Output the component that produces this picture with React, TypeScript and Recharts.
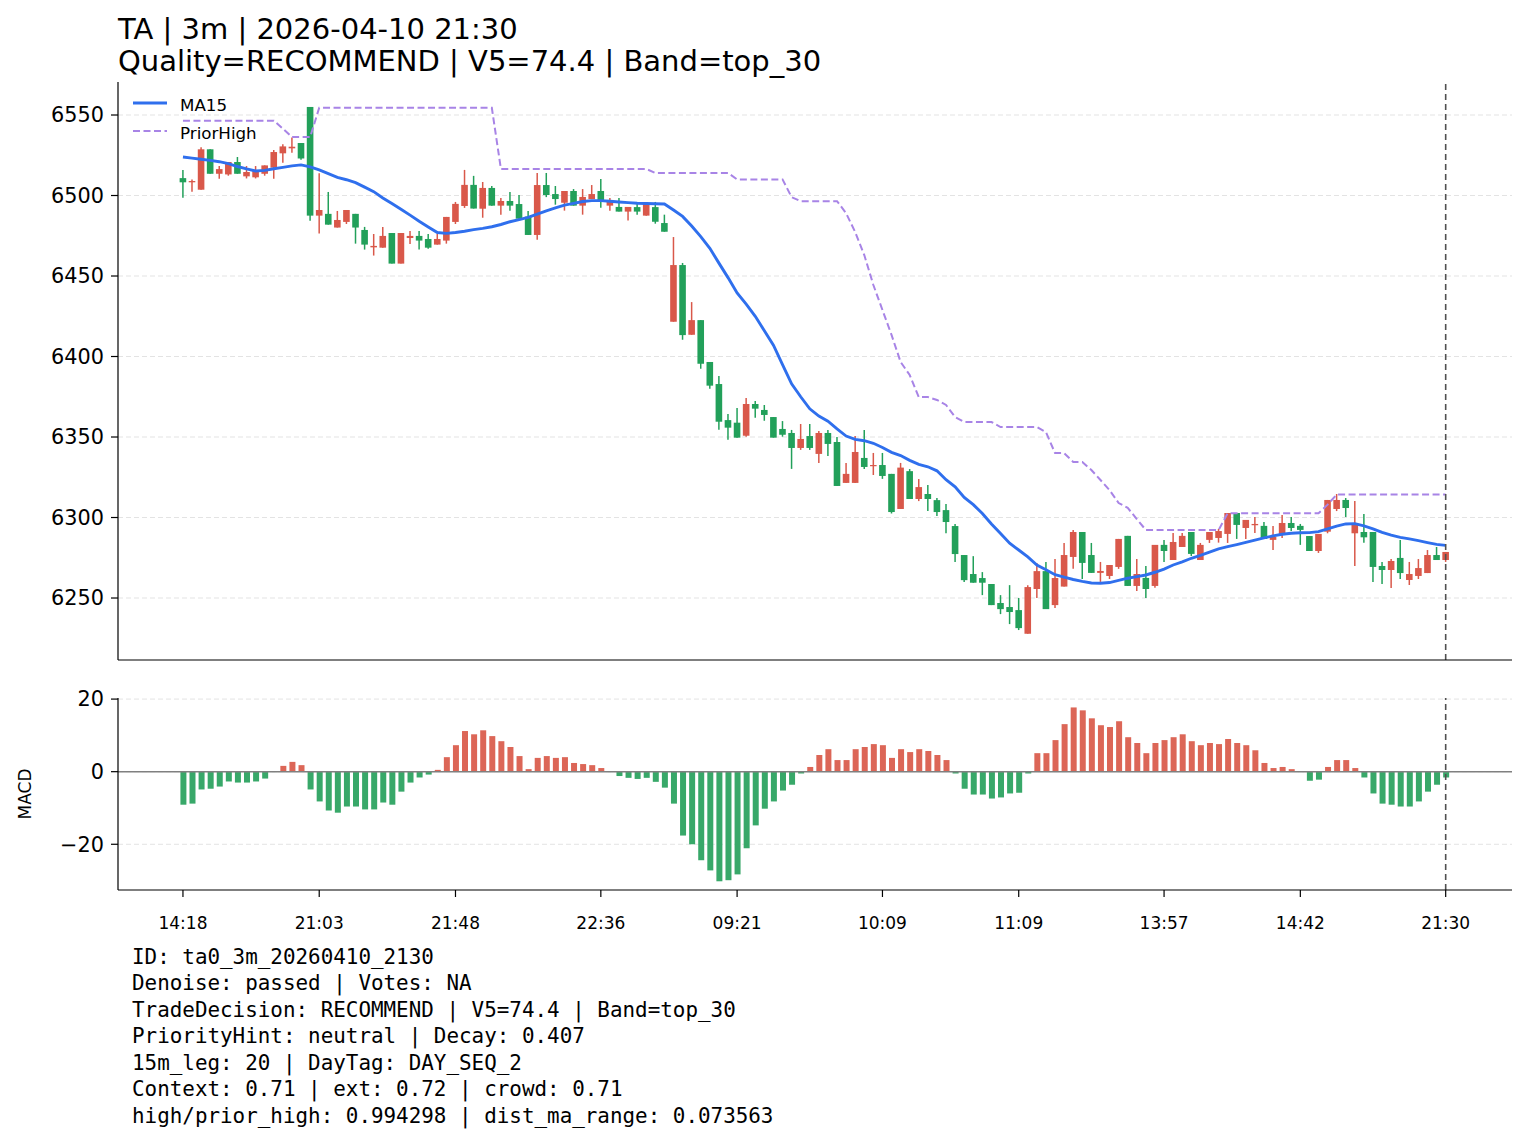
import React from "react";
import {
  ComposedChart,
  Bar,
  Line,
  XAxis,
  YAxis,
  CartesianGrid,
  ReferenceLine,
  Cell,
} from "recharts";

// ---- data (index = 3m bar) ----
const opens = [
  6510.8, 6508.2, 6503.6, 6528.7, 6513.5, 6513.1, 6520.8, 6511.9, 6511.3, 6513.5,
  6517.3, 6526.2, 6529.3, 6532.6, 6555.0, 6487.5, 6488.6, 6480.1, 6483.6, 6488.6,
  6478.6, 6467.8, 6467.6, 6476.7, 6457.7, 6473.6, 6474.9, 6473.0, 6469.5, 6472.0,
  6483.6, 6493.5, 6506.6, 6491.8, 6504.7, 6493.7, 6496.6, 6494.7, 6486.9, 6475.5,
  6506.5, 6500.9, 6495.5, 6502.8, 6493.7, 6497.8, 6502.8, 6493.7, 6492.9, 6490.0,
  6492.8, 6487.5, 6492.8, 6482.9, 6421.6, 6456.8, 6413.5, 6422.6, 6396.6, 6382.9,
  6360.5, 6358.9, 6350.8, 6370.5, 6366.8, 6362.4, 6355.0, 6352.5, 6343.2, 6350.6,
  6339.5, 6352.5, 6346.9, 6321.5, 6321.5, 6337.0, 6332.0, 6332.6, 6327.1, 6305.3,
  6328.8, 6311.5, 6314.6, 6310.8, 6304.6, 6294.7, 6276.7, 6264.9, 6262.4, 6258.7,
  6246.9, 6244.4, 6242.5, 6227.8, 6255.6, 6266.7, 6245.6, 6257.1, 6275.5, 6291.0,
  6276.7, 6265.6, 6263.7, 6269.3, 6288.6, 6257.5, 6262.5, 6257.5, 6283.0, 6273.6,
  6281.7, 6291.0, 6273.6, 6286.1, 6287.3, 6289.8, 6302.8, 6293.5, 6295.2, 6294.8,
  6286.1, 6289.8, 6296.6, 6294.8, 6288.5, 6279.2, 6291.2, 6305.3, 6310.9, 6290.2,
  6291.0, 6291.0, 6269.9, 6267.4, 6274.9, 6261.2, 6263.7, 6265.5, 6276.7, 6273.6,
];

const highs = [
  6515.8, 6510.0, 6529.9, 6528.7, 6518.3, 6520.8, 6523.9, 6518.3, 6518.3, 6518.7,
  6528.2, 6531.8, 6536.1, 6532.6, 6555.0, 6513.8, 6502.2, 6490.4, 6491.0, 6488.6,
  6480.5, 6476.1, 6480.5, 6476.7, 6476.7, 6478.0, 6478.0, 6476.1, 6476.1, 6486.7,
  6496.0, 6515.9, 6512.2, 6508.4, 6505.9, 6498.4, 6502.2, 6500.3, 6490.4, 6514.0,
  6514.0, 6505.9, 6502.8, 6504.0, 6504.0, 6506.5, 6510.2, 6498.4, 6498.4, 6492.9,
  6495.1, 6496.0, 6496.0, 6488.1, 6474.2, 6458.1, 6433.8, 6422.6, 6396.6, 6387.9,
  6364.3, 6368.0, 6374.2, 6372.3, 6369.9, 6362.4, 6359.9, 6354.4, 6358.1, 6358.1,
  6353.8, 6354.4, 6350.0, 6333.9, 6350.7, 6354.4, 6340.1, 6340.1, 6327.1, 6333.9,
  6330.1, 6323.9, 6320.2, 6312.1, 6308.4, 6295.9, 6276.7, 6276.0, 6266.1, 6258.7,
  6251.8, 6258.0, 6250.0, 6258.0, 6271.7, 6272.3, 6274.2, 6284.2, 6292.3, 6291.0,
  6284.2, 6272.4, 6270.5, 6286.7, 6288.6, 6274.3, 6269.9, 6283.0, 6286.1, 6290.4,
  6290.4, 6291.0, 6284.2, 6291.0, 6292.9, 6302.8, 6302.8, 6298.5, 6300.3, 6297.2,
  6294.8, 6301.6, 6300.3, 6296.0, 6288.5, 6289.8, 6310.9, 6314.6, 6312.1, 6310.3,
  6302.2, 6291.0, 6272.4, 6274.2, 6286.0, 6272.4, 6274.2, 6279.8, 6281.7, 6278.6,
];

const lows = [
  6498.6, 6502.4, 6503.6, 6513.5, 6510.4, 6512.3, 6513.5, 6510.6, 6510.6, 6512.3,
  6510.4, 6520.4, 6526.6, 6522.2, 6484.3, 6476.4, 6481.9, 6480.1, 6482.3, 6470.1,
  6466.4, 6462.7, 6467.6, 6457.7, 6457.7, 6469.9, 6466.4, 6467.0, 6469.5, 6470.1,
  6482.3, 6492.3, 6491.9, 6486.2, 6493.7, 6488.1, 6490.6, 6485.6, 6475.5, 6472.5,
  6499.0, 6494.3, 6490.6, 6493.7, 6488.1, 6497.8, 6492.4, 6490.6, 6490.0, 6484.4,
  6488.1, 6487.5, 6482.5, 6477.5, 6421.6, 6410.4, 6413.5, 6392.4, 6380.0, 6354.5,
  6348.3, 6349.6, 6350.2, 6362.0, 6360.1, 6349.6, 6350.2, 6330.2, 6342.0, 6342.0,
  6333.9, 6338.2, 6319.6, 6321.5, 6321.5, 6330.2, 6326.4, 6324.0, 6302.5, 6305.3,
  6311.5, 6310.2, 6304.0, 6300.9, 6290.3, 6272.3, 6259.9, 6259.5, 6251.8, 6245.6,
  6240.0, 6233.8, 6230.1, 6227.8, 6250.0, 6243.1, 6243.8, 6257.1, 6268.1, 6261.8,
  6265.6, 6260.0, 6261.8, 6268.1, 6257.5, 6254.4, 6250.0, 6256.3, 6272.4, 6273.6,
  6281.7, 6276.1, 6273.6, 6284.2, 6284.4, 6284.2, 6286.7, 6286.7, 6290.4, 6286.7,
  6279.8, 6287.3, 6291.6, 6283.0, 6279.2, 6278.0, 6290.2, 6304.0, 6300.3, 6269.9,
  6284.4, 6260.0, 6258.7, 6256.2, 6261.8, 6258.1, 6261.8, 6265.5, 6273.6, 6272.4,
];

const closes = [
  6508.2, 6509.0, 6528.7, 6513.5, 6516.4, 6520.8, 6513.5, 6514.6, 6515.4, 6518.7,
  6527.0, 6530.5, 6530.3, 6523.0, 6487.5, 6491.0, 6481.9, 6484.8, 6491.0, 6480.1,
  6469.5, 6468.7, 6474.9, 6457.7, 6476.7, 6474.9, 6472.0, 6467.6, 6473.0, 6486.7,
  6494.8, 6506.6, 6491.9, 6504.7, 6493.7, 6496.6, 6493.7, 6485.6, 6475.5, 6506.5,
  6500.3, 6497.8, 6502.8, 6493.7, 6499.1, 6500.9, 6496.8, 6496.0, 6490.0, 6492.9,
  6490.0, 6495.1, 6483.7, 6477.5, 6456.8, 6413.3, 6422.6, 6395.5, 6381.9, 6359.5,
  6355.8, 6349.6, 6370.5, 6367.6, 6363.7, 6349.6, 6351.4, 6343.2, 6348.8, 6343.2,
  6352.5, 6345.7, 6319.6, 6327.1, 6340.7, 6331.4, 6332.6, 6325.8, 6303.4, 6331.0,
  6311.5, 6318.9, 6311.5, 6303.4, 6297.2, 6277.3, 6261.1, 6259.5, 6259.5, 6245.6,
  6243.1, 6241.3, 6231.3, 6256.8, 6266.7, 6243.1, 6262.4, 6276.7, 6291.0, 6271.8,
  6265.6, 6266.8, 6270.5, 6286.7, 6257.5, 6264.9, 6255.6, 6283.0, 6279.2, 6284.8,
  6288.6, 6277.4, 6283.0, 6291.0, 6291.6, 6302.8, 6295.4, 6298.5, 6296.0, 6286.7,
  6287.9, 6296.6, 6293.5, 6292.3, 6279.2, 6289.8, 6310.9, 6310.9, 6305.9, 6295.4,
  6287.7, 6269.3, 6267.4, 6273.0, 6265.5, 6264.9, 6268.6, 6276.7, 6273.6, 6278.6,
];

const ma15 = [
  6523.9, 6523.2, 6522.5, 6521.8, 6521.0, 6519.8, 6518.0, 6516.5, 6515.2, 6515.6,
  6516.6, 6517.5, 6518.4, 6519.0, 6517.8, 6515.9, 6513.6, 6511.3, 6509.8, 6508.0,
  6505.2, 6502.4, 6498.5, 6495.0, 6491.5, 6487.8, 6484.0, 6480.5, 6477.0, 6476.5,
  6477.0, 6477.8, 6478.8, 6479.6, 6480.6, 6482.0, 6483.7, 6485.0, 6486.4, 6488.5,
  6490.5, 6492.3, 6494.0, 6495.1, 6496.3, 6496.8, 6496.8, 6496.4, 6496.0, 6495.6,
  6495.2, 6495.0, 6494.9, 6494.7, 6491.0, 6487.0, 6481.0, 6474.5, 6467.2, 6458.0,
  6449.0, 6439.5, 6432.5, 6425.0, 6416.0, 6407.0, 6395.0, 6383.0, 6375.0, 6367.5,
  6363.0, 6359.8, 6355.0, 6350.6, 6348.5, 6347.7, 6346.1, 6343.5, 6340.5, 6338.5,
  6335.5, 6333.0, 6331.5, 6329.0, 6323.5, 6319.0, 6312.5, 6308.0, 6302.5, 6296.0,
  6290.0, 6284.0, 6279.8, 6275.5, 6270.5, 6267.5, 6264.5, 6263.0, 6261.5, 6260.3,
  6259.3, 6259.2, 6259.6, 6261.0, 6262.3, 6263.3, 6264.3, 6266.0, 6268.0, 6270.5,
  6272.5, 6274.7, 6276.5, 6278.5, 6280.5, 6281.9, 6283.2, 6284.6, 6286.0, 6287.3,
  6288.6, 6289.6, 6290.2, 6290.5, 6290.6, 6291.2, 6293.0, 6294.7, 6296.0, 6296.2,
  6294.8, 6293.0, 6290.8, 6289.0, 6287.7, 6286.7, 6285.6, 6284.4, 6283.3, 6282.7,
];

const priorHigh = [
  6546.5, 6546.5, 6546.5, 6546.5, 6546.5, 6546.5, 6546.5, 6546.5, 6546.5, 6546.5,
  6546.5, 6541.5, 6536.3, 6536.3, 6536.3, 6554.5, 6554.5, 6554.5, 6554.5, 6554.5,
  6554.5, 6554.5, 6554.5, 6554.5, 6554.5, 6554.5, 6554.5, 6554.5, 6554.5, 6554.5,
  6554.5, 6554.5, 6554.5, 6554.5, 6554.5, 6516.5, 6516.5, 6516.5, 6516.5, 6516.5,
  6516.5, 6516.5, 6516.5, 6516.5, 6516.5, 6516.5, 6516.5, 6516.5, 6516.5, 6516.5,
  6516.5, 6516.5, 6514.0, 6514.0, 6514.0, 6514.0, 6514.0, 6514.0, 6514.0, 6514.0,
  6514.0, 6510.0, 6510.0, 6510.0, 6510.0, 6510.0, 6510.0, 6499.0, 6496.5, 6496.5,
  6496.5, 6496.5, 6496.5, 6489.0, 6477.3, 6463.0, 6444.4, 6428.9, 6413.4, 6396.6,
  6388.5, 6374.8, 6374.8, 6373.0, 6369.9, 6362.4, 6359.3, 6359.3, 6359.3, 6359.3,
  6356.2, 6356.2, 6356.2, 6356.2, 6356.2, 6353.0, 6340.0, 6340.0, 6334.5, 6334.5,
  6329.5, 6323.3, 6317.0, 6309.0, 6306.0, 6299.0, 6292.2, 6292.2, 6292.2, 6292.2,
  6292.2, 6292.2, 6292.2, 6292.2, 6292.2, 6302.6, 6302.6, 6302.6, 6302.6, 6302.6,
  6302.6, 6302.6, 6302.6, 6302.6, 6302.6, 6302.6, 6308.0, 6314.3, 6314.3, 6314.3,
  6314.3, 6314.3, 6314.3, 6314.3, 6314.3, 6314.3, 6314.3, 6314.3, 6314.3, 6314.3,
];

const macd = [
  -9.1, -8.8, -4.9, -4.7, -4.1, -2.7, -3.0, -3.0, -2.7, -1.9,
  -0.1, 1.6, 2.7, 1.8, -4.9, -8.2, -10.7, -11.3, -9.6, -9.6,
  -10.4, -10.4, -8.5, -9.1, -5.5, -3.0, -1.6, -0.8, 0.5, 4.0,
  7.3, 11.2, 10.3, 11.4, 9.8, 8.4, 6.8, 4.3, 0.7, 3.8,
  4.3, 3.8, 4.0, 2.4, 2.1, 1.8, 1.0, -0.1, -1.2, -1.7,
  -2.0, -1.7, -2.8, -4.4, -8.8, -17.6, -20.0, -24.4, -27.2, -30.2,
  -29.9, -28.3, -21.1, -14.8, -10.2, -8.2, -5.2, -3.6, -0.5, 1.3,
  4.6, 6.2, 3.2, 3.2, 6.2, 6.8, 7.6, 7.3, 3.8, 6.2,
  5.4, 6.2, 5.7, 4.6, 3.2, -0.5, -4.7, -6.3, -6.3, -7.4,
  -7.1, -6.0, -5.8, -0.5, 5.1, 5.1, 8.7, 13.1, 17.7, 16.9,
  14.7, 12.8, 12.3, 13.9, 9.5, 7.9, 5.1, 7.9, 8.7, 9.5,
  10.3, 8.4, 7.3, 7.9, 7.6, 9.0, 7.9, 7.3, 5.9, 2.4,
  1.0, 1.3, 0.7, -0.1, -2.5, -2.2, 1.3, 3.2, 3.2, 1.0,
  -1.6, -6.0, -8.8, -9.1, -9.6, -9.6, -8.2, -5.5, -3.6, -1.6,
];

const tickIdx = [0, 15, 30, 46, 61, 77, 92, 108, 123, 139];
const tickLabels = ["14:18", "21:03", "21:48", "22:36", "09:21", "10:09", "11:09", "13:57", "14:42", "21:30"];
const priceTicks = [6250, 6300, 6350, 6400, 6450, 6500, 6550];
const macdTicks = [-20, 0, 20];

const infoLines = [
  "ID: ta0_3m_20260410_2130",
  "Denoise: passed | Votes: NA",
  "TradeDecision: RECOMMEND | V5=74.4 | Band=top_30",
  "PriorityHint: neutral | Decay: 0.407",
  "15m_leg: 20 | DayTag: DAY_SEQ_2",
  "Context: 0.71 | ext: 0.72 | crowd: 0.71",
  "high/prior_high: 0.994298 | dist_ma_range: 0.073563",
];

const lastIdx = 139;

const RED = "#d9584a";
const GREEN = "#22a05a";
const MACD_RED = "#dc6657";
const MACD_GREEN = "#38a869";
const BLUE = "#2f6fed";
const PURPLE = "#a884e6";
const GRID = "#e3e3e3";

const rows = opens.map((o, i) => ({
  i,
  open: o,
  high: highs[i],
  low: lows[i],
  close: closes[i],
  ma: ma15[i],
  prior: priorHigh[i],
  macd: macd[i],
}));

const xDomain = [-7.15, 146.3];

const fmtTime = (v: number) => {
  const k = tickIdx.indexOf(v);
  return k >= 0 ? tickLabels[k] : "";
};

const fmtMacd = (v: number) => (v < 0 ? `\u2212${Math.abs(v)}` : `${v}`);

// candle drawn inside the [low, high] range bar
const Candle = (props: any) => {
  const { x, y, width, height, payload } = props;
  if (!payload) return null;
  const { open, close, high, low } = payload;
  const color = close >= open ? RED : GREEN;
  const cx = x + width / 2;
  const ppu = high > low ? height / (high - low) : 0;
  const bodyTop = y + (high - Math.max(open, close)) * ppu;
  const bodyH = Math.max(Math.abs(open - close) * ppu, 1.2);
  return (
    <g>
      <line x1={cx} x2={cx} y1={y} y2={y + height} stroke={color} strokeWidth={1.5} />
      <rect x={cx - 3.3} y={bodyTop} width={6.6} height={bodyH} fill={color} />
    </g>
  );
};

const tickFont = { fontSize: 20.8, fill: "#000" };

export default function App() {
  return (
    <div
      style={{
        position: "absolute",
        left: 0,
        top: 0,
        width: 1527,
        height: 1143,
        background: "#fff",
        fontFamily: "'DejaVu Sans', sans-serif",
        color: "#000",
      }}
    >
      {/* title */}
      <div style={{ position: "absolute", left: 118, top: 12.6, fontSize: 29, lineHeight: "32px", whiteSpace: "pre" }}>
        TA | 3m | 2026-04-10 21:30
      </div>
      <div style={{ position: "absolute", left: 118, top: 44.6, fontSize: 29, lineHeight: "32px", whiteSpace: "pre" }}>
        Quality=RECOMMEND | V5=74.4 | Band=top_30
      </div>

      {/* price panel */}
      <div style={{ position: "absolute", left: 0, top: 0 }}>
        <ComposedChart width={1527} height={700} data={rows} margin={{ top: 82, right: 15, bottom: 10, left: 0 }}>
          <CartesianGrid vertical={false} syncWithTicks stroke={GRID} strokeDasharray="5 3" />
          <XAxis
            dataKey="i"
            type="number"
            domain={xDomain}
            allowDataOverflow
            ticks={tickIdx}
            tick={false}
            tickSize={7}
            height={30}
            axisLine={{ stroke: "#000", strokeWidth: 1.2 }}
            tickLine={{ stroke: "#000", strokeWidth: 1.2 }}
          />
          <YAxis
            type="number"
            domain={[6211.5, 6570.5]}
            allowDataOverflow
            ticks={priceTicks}
            width={118}
            tickSize={7}
            tickMargin={7}
            tick={tickFont}
            axisLine={{ stroke: "#000", strokeWidth: 1.2 }}
            tickLine={{ stroke: "#000", strokeWidth: 1.2 }}
          />
          <Bar
            dataKey={(d: any) => [d.low, d.high]}
            barSize={7}
            shape={Candle}
            isAnimationActive={false}
          />
          <Line
            dataKey="prior"
            type="linear"
            stroke={PURPLE}
            strokeWidth={2}
            strokeDasharray="7 3.5"
            dot={false}
            activeDot={false}
            isAnimationActive={false}
          />
          <Line
            dataKey="ma"
            type="linear"
            stroke={BLUE}
            strokeWidth={2.9}
            dot={false}
            activeDot={false}
            isAnimationActive={false}
          />
          <ReferenceLine x={lastIdx} stroke="#505050" strokeWidth={1.6} strokeDasharray="6 4" />
        </ComposedChart>
      </div>

      {/* legend */}
      <div style={{ position: "absolute", left: 133, top: 91, fontSize: 16.7, lineHeight: "28px" }}>
        <div style={{ display: "flex", alignItems: "center" }}>
          <svg width={47} height={28}>
            <line x1={0} x2={34} y1={12} y2={12} stroke={BLUE} strokeWidth={2.9} />
          </svg>
          <span>MA15</span>
        </div>
        <div style={{ display: "flex", alignItems: "center" }}>
          <svg width={47} height={28}>
            <line x1={0} x2={34} y1={12} y2={12} stroke={PURPLE} strokeWidth={2} strokeDasharray="7 3.5" />
          </svg>
          <span>PriorHigh</span>
        </div>
      </div>

      {/* MACD panel */}
      <div style={{ position: "absolute", left: 0, top: 680 }}>
        <ComposedChart width={1527} height={260} data={rows} margin={{ top: 18, right: 15, bottom: 10, left: 0 }}>
          <CartesianGrid vertical={false} syncWithTicks stroke={GRID} strokeDasharray="5 3" />
          <XAxis
            dataKey="i"
            type="number"
            domain={xDomain}
            allowDataOverflow
            ticks={tickIdx}
            tickFormatter={fmtTime}
            tickSize={7}
            tickMargin={20}
            height={40}
            tick={{ fontSize: 17, fill: "#000" }}
            axisLine={{ stroke: "#000", strokeWidth: 1.2 }}
            tickLine={{ stroke: "#000", strokeWidth: 1.2 }}
          />
          <YAxis
            type="number"
            domain={[-32.6, 20.3]}
            allowDataOverflow
            ticks={macdTicks}
            tickFormatter={fmtMacd}
            width={118}
            tickSize={7}
            tickMargin={7}
            tick={tickFont}
            axisLine={{ stroke: "#000", strokeWidth: 1.2 }}
            tickLine={{ stroke: "#000", strokeWidth: 1.2 }}
            label={{
              value: "MACD",
              angle: -90,
              position: "center",
              dx: -34,
              style: { fontSize: 17, fill: "#000" },
            }}
          />
          <Bar dataKey="macd" barSize={6} isAnimationActive={false}>
            {rows.map((r) => (
              <Cell key={r.i} fill={r.macd >= 0 ? MACD_RED : MACD_GREEN} />
            ))}
          </Bar>
          <ReferenceLine y={0} stroke="#808080" strokeWidth={1.6} />
          <ReferenceLine x={lastIdx} stroke="#505050" strokeWidth={1.6} strokeDasharray="6 4" />
        </ComposedChart>
      </div>

      {/* info block */}
      <div
        style={{
          position: "absolute",
          left: 132,
          top: 943.5,
          fontFamily: "'DejaVu Sans Mono', monospace",
          fontSize: 20.9,
          lineHeight: "26.5px",
          whiteSpace: "pre",
        }}
      >
        {infoLines.map((t) => (
          <div key={t}>{t}</div>
        ))}
      </div>
    </div>
  );
}
